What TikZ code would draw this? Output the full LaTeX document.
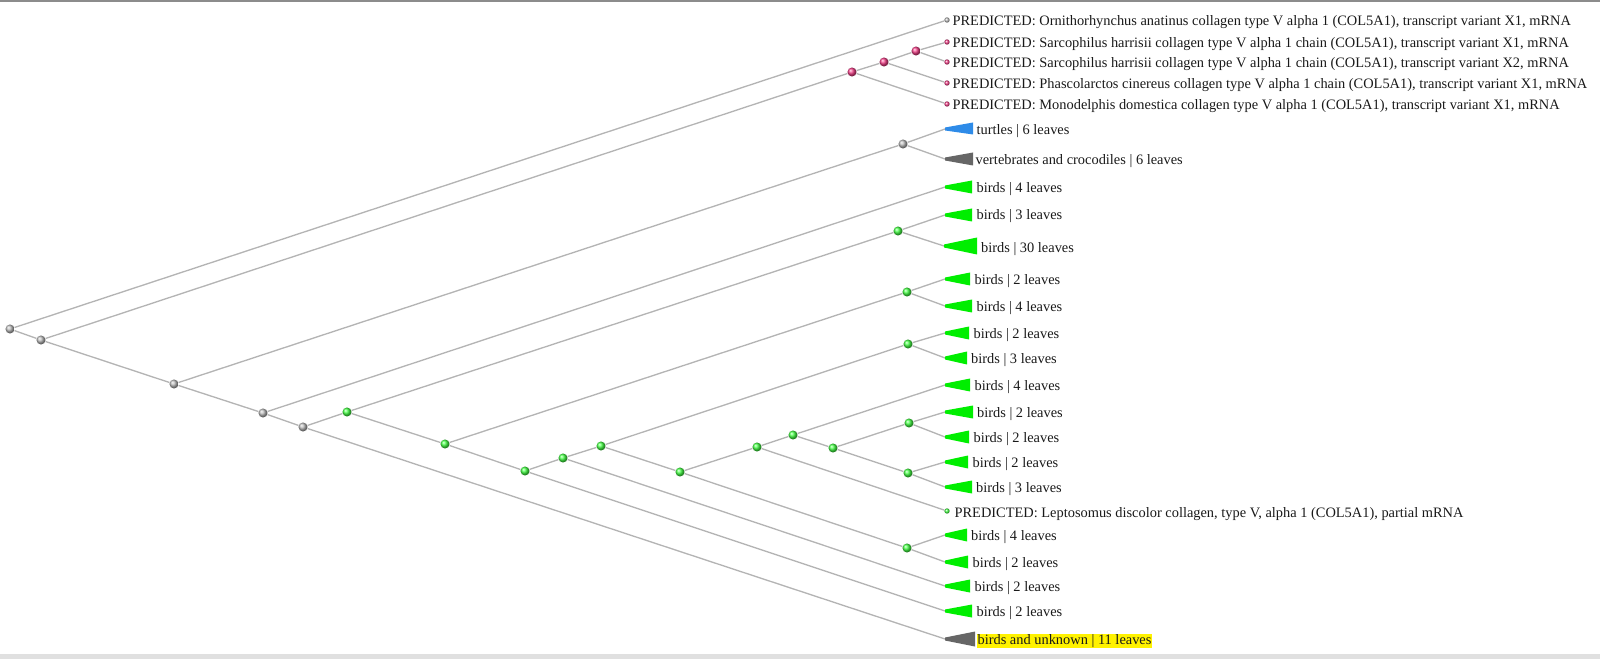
\documentclass[tikz,border=0pt]{standalone}
\usepackage{fontspec}
\setmainfont{Liberation Serif}
\usepackage{tikz}

\definecolor{edgegray}{HTML}{B4B4B4}
\definecolor{rootgray}{HTML}{BBBBBB}
\definecolor{marsupial}{HTML}{F24088}
\definecolor{avian}{HTML}{44FF44}
\definecolor{birdgreen}{HTML}{00EE00}
\definecolor{turtleblue}{HTML}{2E8BE8}
\definecolor{cladegray}{HTML}{666666}

\tikzset{
  br/.style={draw=edgegray, line width=1pt},
  ball/.style={circle, inner sep=0pt, minimum size=6.8pt},
  gnode/.style={ball, ball color=rootgray},
  pnode/.style={ball, ball color=marsupial},
  bnode/.style={ball, ball color=avian},
  tip/.style={circle, inner sep=0pt, minimum size=4pt},
  lab/.style={anchor=base west, inner sep=1pt, text=black!90, font=\fontsize{10.8}{12}\selectfont},
  birdfill/.style={fill=birdgreen},
  greyfill/.style={fill=cladegray},
  bluefill/.style={fill=turtleblue}
}

\begin{document}
\begin{tikzpicture}[x=0.75pt,y=-0.75pt]
\useasboundingbox (0,0) rectangle (1600,659);
\draw[black!45, line width=1.2pt] (0,0.8) -- (1600,0.8);
\fill[black!12] (0,654) rectangle (1600,659);

\node[gnode] (R) at (10,329) {};
\node[gnode] (n1) at (41,340) {};
\node[gnode] (n2) at (174,384) {};
\node[gnode] (n3) at (263,413) {};
\node[gnode] (n4) at (303,427) {};
\node[pnode] (m1) at (852,72) {};
\node[pnode] (m2) at (884,62) {};
\node[pnode] (m3) at (916,51) {};
\node[gnode] (t) at (903,144) {};
\node[bnode] (g1) at (347,412) {};
\node[bnode] (g2) at (445,444) {};
\node[bnode] (g3) at (525,471) {};
\node[bnode] (g4) at (563,458) {};
\node[bnode] (g5) at (601,446) {};
\node[bnode] (g6) at (680,472) {};
\node[bnode] (g7) at (757,447) {};
\node[bnode] (g8) at (793,435) {};
\node[bnode] (g9) at (833,448) {};
\node[bnode] (g10) at (909,423) {};
\node[bnode] (g11) at (908,473) {};
\node[bnode] (gA) at (898,231) {};
\node[bnode] (gB) at (907,292) {};
\node[bnode] (gC) at (908,344) {};
\node[bnode] (gD) at (907,548) {};

\node[tip, ball color=rootgray] (o1) at (947,20) {};
\node[tip, ball color=marsupial] (s1) at (947,42) {};
\node[tip, ball color=marsupial] (s2) at (947,62) {};
\node[tip, ball color=marsupial] (ph) at (947,83) {};
\node[tip, ball color=marsupial] (mo) at (947,104) {};
\node[tip, ball color=avian] (le) at (947,511) {};
\coordinate (tu) at (945,129);
\coordinate (vc) at (945,159);
\coordinate (b1) at (945,187);
\coordinate (b2) at (945,215);
\coordinate (b3) at (944,246);
\coordinate (b4) at (945,279);
\coordinate (b5) at (945,306);
\coordinate (b6) at (945,333);
\coordinate (b7) at (945,358);
\coordinate (b8) at (945,385);
\coordinate (b9) at (945,412);
\coordinate (b10) at (945,437);
\coordinate (b11) at (945,462);
\coordinate (b12) at (945,487);
\coordinate (b13) at (945,535);
\coordinate (b14) at (945,562);
\coordinate (b15) at (945,586);
\coordinate (b16) at (945,611);
\coordinate (bu) at (945,639);

\draw[br] (R) -- (o1);
\draw[br] (R) -- (n1);
\draw[br] (n1) -- (m1);
\draw[br] (n1) -- (n2);
\draw[br] (m1) -- (m2);
\draw[br] (m1) -- (mo);
\draw[br] (m2) -- (m3);
\draw[br] (m2) -- (ph);
\draw[br] (m3) -- (s1);
\draw[br] (m3) -- (s2);
\draw[br] (n2) -- (t);
\draw[br] (n2) -- (n3);
\draw[br] (t) -- (tu);
\draw[br] (t) -- (vc);
\draw[br] (n3) -- (b1);
\draw[br] (n3) -- (n4);
\draw[br] (n4) -- (g1);
\draw[br] (n4) -- (bu);
\draw[br] (g1) -- (gA);
\draw[br] (g1) -- (g2);
\draw[br] (gA) -- (b2);
\draw[br] (gA) -- (b3);
\draw[br] (g2) -- (gB);
\draw[br] (g2) -- (g3);
\draw[br] (gB) -- (b4);
\draw[br] (gB) -- (b5);
\draw[br] (g3) -- (g4);
\draw[br] (g3) -- (b16);
\draw[br] (g4) -- (g5);
\draw[br] (g4) -- (b15);
\draw[br] (g5) -- (gC);
\draw[br] (g5) -- (g6);
\draw[br] (gC) -- (b6);
\draw[br] (gC) -- (b7);
\draw[br] (g6) -- (g7);
\draw[br] (g6) -- (gD);
\draw[br] (gD) -- (b13);
\draw[br] (gD) -- (b14);
\draw[br] (g7) -- (g8);
\draw[br] (g7) -- (le);
\draw[br] (g8) -- (b8);
\draw[br] (g8) -- (g9);
\draw[br] (g9) -- (g10);
\draw[br] (g9) -- (g11);
\draw[br] (g10) -- (b9);
\draw[br] (g10) -- (b10);
\draw[br] (g11) -- (b11);
\draw[br] (g11) -- (b12);

\fill[bluefill] (tu) ++(0,-1.5) -- ++(28,-5) -- ++(0,12) -- ++(-28,-4) -- cycle;
\fill[greyfill] (vc) ++(0,-1.5) -- ++(28,-5) -- ++(0,13) -- ++(-28,-5) -- cycle;
\fill[birdfill] (b1) ++(0,-1.5) -- ++(27,-5) -- ++(0,13) -- ++(-27,-5) -- cycle;
\fill[birdfill] (b2) ++(0,-1.5) -- ++(27,-5) -- ++(0,13) -- ++(-27,-5) -- cycle;
\fill[birdfill] (b3) ++(0,-1.5) -- ++(33,-7) -- ++(0,17) -- ++(-33,-7) -- cycle;
\fill[birdfill] (b4) ++(0,-1.5) -- ++(25,-5) -- ++(0,13) -- ++(-25,-5) -- cycle;
\fill[birdfill] (b5) ++(0,-1.5) -- ++(27,-5) -- ++(0,13) -- ++(-27,-5) -- cycle;
\fill[birdfill] (b6) ++(0,-1.5) -- ++(24,-5) -- ++(0,13) -- ++(-24,-5) -- cycle;
\fill[birdfill] (b7) ++(0,-1.5) -- ++(22,-5) -- ++(0,13) -- ++(-22,-5) -- cycle;
\fill[birdfill] (b8) ++(0,-1.5) -- ++(25,-5) -- ++(0,13) -- ++(-25,-5) -- cycle;
\fill[birdfill] (b9) ++(0,-1.5) -- ++(28,-5) -- ++(0,13) -- ++(-28,-5) -- cycle;
\fill[birdfill] (b10) ++(0,-1.5) -- ++(24,-5) -- ++(0,13) -- ++(-24,-5) -- cycle;
\fill[birdfill] (b11) ++(0,-1.5) -- ++(23,-5) -- ++(0,13) -- ++(-23,-5) -- cycle;
\fill[birdfill] (b12) ++(0,-1.5) -- ++(27,-5) -- ++(0,13) -- ++(-27,-5) -- cycle;
\fill[birdfill] (b13) ++(0,-1.5) -- ++(22,-5) -- ++(0,13) -- ++(-22,-5) -- cycle;
\fill[birdfill] (b14) ++(0,-1.5) -- ++(23,-5) -- ++(0,13) -- ++(-23,-5) -- cycle;
\fill[birdfill] (b15) ++(0,-1.5) -- ++(25,-5) -- ++(0,13) -- ++(-25,-5) -- cycle;
\fill[birdfill] (b16) ++(0,-1.5) -- ++(27,-5) -- ++(0,13) -- ++(-27,-5) -- cycle;
\fill[greyfill] (bu) ++(0,-1.5) -- ++(30,-6) -- ++(0,15) -- ++(-30,-6) -- cycle;

\node[lab] (lo1) at (951,25.5) {PREDICTED: Ornithorhynchus anatinus collagen type V alpha 1 (COL5A1), transcript variant X1, mRNA};
\node[lab] (ls1) at (951,47.5) {PREDICTED: Sarcophilus harrisii collagen type V alpha 1 chain (COL5A1), transcript variant X1, mRNA};
\node[lab] (ls2) at (951,67.5) {PREDICTED: Sarcophilus harrisii collagen type V alpha 1 chain (COL5A1), transcript variant X2, mRNA};
\node[lab] (lph) at (951,88.5) {PREDICTED: Phascolarctos cinereus collagen type V alpha 1 chain (COL5A1), transcript variant X1, mRNA};
\node[lab] (lmo) at (951,109.5) {PREDICTED: Monodelphis domestica collagen type V alpha 1 (COL5A1), transcript variant X1, mRNA};
\node[lab] (ltu) at (975,135) {turtles | 6 leaves};
\node[lab] (lvc) at (974,165) {vertebrates and crocodiles | 6 leaves};
\node[lab] (lb1) at (975,192.5) {birds | 4 leaves};
\node[lab] (lb2) at (975,220) {birds | 3 leaves};
\node[lab] (lb3) at (979.5,252.5) {birds | 30 leaves};
\node[lab] (lb4) at (973,284.5) {birds | 2 leaves};
\node[lab] (lb5) at (975,311.5) {birds | 4 leaves};
\node[lab] (lb6) at (972,338.5) {birds | 2 leaves};
\node[lab] (lb7) at (969.5,363.5) {birds | 3 leaves};
\node[lab] (lb8) at (973,390.5) {birds | 4 leaves};
\node[lab] (lb9) at (975.5,417.5) {birds | 2 leaves};
\node[lab] (lb10) at (972,442.5) {birds | 2 leaves};
\node[lab] (lb11) at (971,467.5) {birds | 2 leaves};
\node[lab] (lb12) at (974.5,492.5) {birds | 3 leaves};
\node[lab] (lle) at (953,517.5) {PREDICTED: Leptosomus discolor collagen, type V, alpha 1 (COL5A1), partial mRNA};
\node[lab] (lb13) at (969.5,540.5) {birds | 4 leaves};
\node[lab] (lb14) at (971,567.5) {birds | 2 leaves};
\node[lab] (lb15) at (973,591.5) {birds | 2 leaves};
\node[lab] (lb16) at (975,616.5) {birds | 2 leaves};
\node[lab, fill=yellow, inner sep=0.6pt] (lbu) at (976.5,644.5) {birds and unknown | 11 leaves};
\end{tikzpicture}
\end{document}
